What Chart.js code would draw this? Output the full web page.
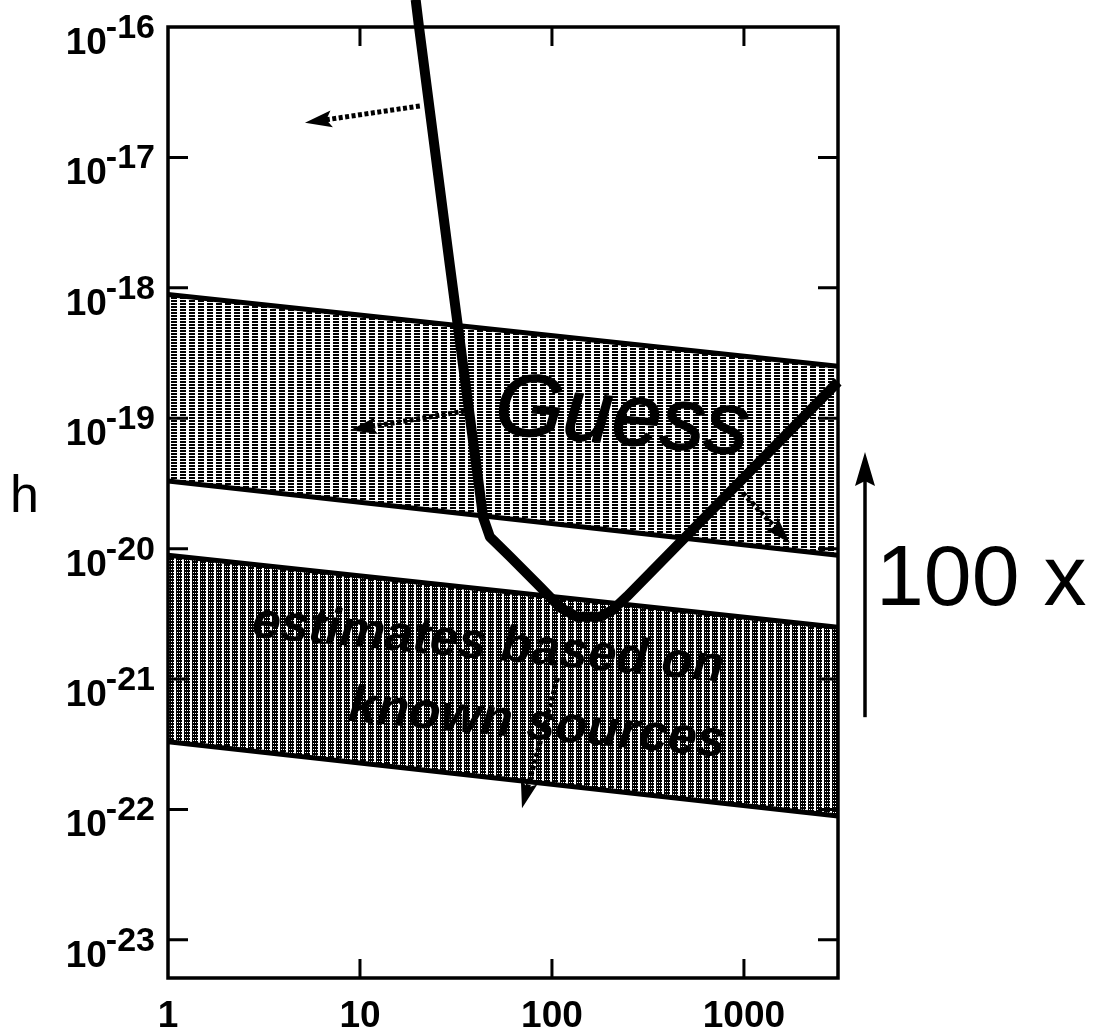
<!DOCTYPE html>
<html>
<head>
<meta charset="utf-8">
<script src="https://cdn.jsdelivr.net/npm/chart.js@4.4.1/dist/chart.umd.min.js"></script>
<style>
  html, body { margin: 0; padding: 0; background: #fff; }
  #wrap { width: 1095px; height: 1029px; position: relative; }
</style>
</head>
<body>
<div id="wrap"><canvas id="c" width="1095" height="1029"></canvas></div>
<script>
// ---- data ----
const freqTicks = [1, 10, 100, 1000];
const freqTickLabels = ['1', '10', '100', '1000'];
const hExponents = [-16, -17, -18, -19, -20, -21, -22, -23];

const bandX = [1, 3090];
const upperBandTop = [8.9e-19, 2.5e-19];
const upperBandBottom = [3.3e-20, 8.9e-21];
const lowerBandTop = [8.9e-21, 2.5e-21];
const lowerBandBottom = [3.3e-22, 8.9e-23];

const guessX = [19.5, 20.3, 29.4, 43.8, 47.5, 60.4, 86.7, 110, 135, 178, 208, 246, 3090];
const guessH = [1.62e-16, 1.0e-16, 1.48e-18, 1.74e-20, 1.23e-20, 8.7e-21, 5.1e-21, 3.55e-21, 3.0e-21, 3.0e-21, 3.4e-21, 4.3e-21, 1.9e-19];

// annotation arrows (from [x,h] -> to [x,h]) in data units
const arrowFromX = [20.5, 35.2, 988, 107];
const arrowFromH = [2.48e-17, 1.135e-19, 2.67e-20, 1.02e-21];
const arrowToX = [5.17, 8.87, 1738, 69.8];
const arrowToH = [1.84e-17, 8.1e-20, 1.1e-20, 1.02e-22];

const scaleArrowH = [5.1e-22, 5.5e-20]; // "100 x" arrow, tail -> tip
const xMin = 1, xMax = 3090, yMin = 5.1e-24, yMax = 1e-16;

const pts = (xs, ys) => xs.map((x, i) => ({ x: x, y: ys[i] }));

// ---- patterns (dotted vertical stripes) ----
function makePattern(w, h, dots) {
  const c = document.createElement('canvas');
  c.width = w; c.height = h;
  const g = c.getContext('2d');
  g.fillStyle = '#ffffff'; g.fillRect(0, 0, w, h);
  g.fillStyle = '#000000';
  dots.forEach(d => g.fillRect(d[0], d[1], 1, 1));
  return document.getElementById('c').getContext('2d').createPattern(c, 'repeat');
}
const upperPattern = makePattern(9, 3, [
  [0,0],[1,0],[2,0],[3,0],[4,0],[5,0],
  [0,1],[1,1],[2,1],[3,1],[4,1],[5,1]
]);
const lowerPattern = makePattern(8, 3, [
  [0,0],[1,0],[2,0],[3,0],[4,0],[5,0],
  [0,1],[1,1],[2,1],[3,1],[4,1],[5,1],
  [0,2],[2,2],[4,2]
]);

const FONT = '"Liberation Sans", Arial, Helvetica, sans-serif';

function arrowHead(ctx, x1, y1, x2, y2, len, half) {
  const a = Math.atan2(y2 - y1, x2 - x1);
  ctx.save();
  ctx.translate(x2, y2);
  ctx.rotate(a);
  ctx.beginPath();
  ctx.moveTo(0, 0);
  ctx.lineTo(-len, -half);
  ctx.lineTo(-len * 0.8, 0);
  ctx.lineTo(-len, half);
  ctx.closePath();
  ctx.fill();
  ctx.restore();
}

const decor = {
  id: 'decor',
  afterDatasetsDraw(chart) {
    const ctx = chart.ctx;
    const xs = chart.scales.x, ys = chart.scales.y;
    const ca = chart.chartArea;
    ctx.save();
    ctx.fillStyle = '#000'; ctx.strokeStyle = '#000';

    // texts inside the plot
    function rotText(txt, xv, hv, font, ang, stroke) {
      const px = xs.getPixelForValue(xv), py = ys.getPixelForValue(hv);
      ctx.save();
      ctx.translate(px, py);
      ctx.rotate(ang * Math.PI / 180);
      ctx.font = font;
      ctx.textAlign = 'center';
      ctx.textBaseline = 'middle';
      if (stroke) { ctx.lineWidth = stroke; ctx.lineJoin = 'round'; ctx.strokeText(txt, 0, 0); }
      ctx.fillText(txt, 0, 0);
      ctx.restore();
    }
    rotText('Guess', 232, 9.8e-20, 'italic 88px ' + FONT, 5, 1.5);
    rotText('estimates based on', 46.4, 1.82e-21, 'italic bold 51px ' + FONT, 5.5, 0);
    rotText('known sources', 83.5, 4.47e-22, 'italic bold 52px ' + FONT, 5.5, 0);

    // dotted arrows
    for (let i = 0; i < arrowFromX.length; i++) {
      const x1 = xs.getPixelForValue(arrowFromX[i]), y1 = ys.getPixelForValue(arrowFromH[i]);
      const x2 = xs.getPixelForValue(arrowToX[i]), y2 = ys.getPixelForValue(arrowToH[i]);
      const a = Math.atan2(y2 - y1, x2 - x1);
      ctx.save();
      ctx.lineWidth = 5;
      ctx.setLineDash([4, 2.5]);
      ctx.beginPath();
      ctx.moveTo(x1, y1);
      ctx.lineTo(x2 - Math.cos(a) * 20, y2 - Math.sin(a) * 20);
      ctx.stroke();
      ctx.restore();
      arrowHead(ctx, x1, y1, x2, y2, 27, 8.5);
    }

    // frame
    ctx.lineWidth = 3.5;
    ctx.strokeRect(ca.left, ca.top, ca.right - ca.left, ca.bottom - ca.top);

    // ticks (inward, mirrored)
    ctx.lineWidth = 3;
    ctx.beginPath();
    hExponents.forEach(e => {
      const y = ys.getPixelForValue(Math.pow(10, e));
      if (y > ca.top + 2 && y < ca.bottom - 2) {
        ctx.moveTo(ca.left, y); ctx.lineTo(ca.left + 20, y);
        ctx.moveTo(ca.right, y); ctx.lineTo(ca.right - 20, y);
      }
    });
    freqTicks.forEach(v => {
      const x = xs.getPixelForValue(v);
      if (x > ca.left + 2 && x < ca.right - 2) {
        ctx.moveTo(x, ca.bottom); ctx.lineTo(x, ca.bottom - 19);
        ctx.moveTo(x, ca.top); ctx.lineTo(x, ca.top + 19);
      }
    });
    ctx.stroke();

    // y tick labels 10^e
    hExponents.forEach(e => {
      const y = ys.getPixelForValue(Math.pow(10, e));
      const right = ca.left - 13;
      const sup = '-' + String(-e);
      ctx.textBaseline = 'alphabetic';
      ctx.textAlign = 'right';
      ctx.font = 'bold 34px ' + FONT;
      const wSup = ctx.measureText(sup).width;
      ctx.fillText(sup, right, y + 11);
      ctx.font = 'bold 37px ' + FONT;
      ctx.fillText('10', right - wSup + 1, y + 27);
    });

    // x tick labels
    ctx.font = 'bold 37px ' + FONT;
    ctx.textAlign = 'center';
    ctx.textBaseline = 'alphabetic';
    freqTicks.forEach((v, i) => {
      ctx.fillText(freqTickLabels[i], xs.getPixelForValue(v), ca.bottom + 49);
    });

    // axis title
    ctx.font = '52px ' + FONT;
    ctx.textAlign = 'left';
    ctx.fillText('h', 10, 512);

    // "100 x" scale arrow at the right
    const ax = ca.right + 27;
    const yTail = ys.getPixelForValue(scaleArrowH[0]);
    const yTip = ys.getPixelForValue(scaleArrowH[1]);
    ctx.lineWidth = 3.5;
    ctx.beginPath();
    ctx.moveTo(ax, yTail); ctx.lineTo(ax, yTip + 25);
    ctx.stroke();
    ctx.beginPath();
    ctx.moveTo(ax, yTip);
    ctx.lineTo(ax - 10, yTip + 34);
    ctx.lineTo(ax, yTip + 29);
    ctx.lineTo(ax + 10, yTip + 34);
    ctx.closePath();
    ctx.fill();
    ctx.font = '86px ' + FONT;
    ctx.textAlign = 'left';
    ctx.textBaseline = 'alphabetic';
    ctx.fillText('100 x', ca.right + 38, 605);

    ctx.restore();
  }
};

new Chart(document.getElementById('c'), {
  type: 'line',
  data: {
    datasets: [
      { label: 'Guess', data: pts(guessX, guessH), borderColor: '#000', borderWidth: 10,
        pointRadius: 0, tension: 0, fill: false, order: 0, clip: false,
        borderJoinStyle: 'round', borderCapStyle: 'butt' },
      { label: 'upper top', data: pts(bandX, upperBandTop), borderColor: '#000', borderWidth: 5,
        pointRadius: 0, fill: false, order: 1 },
      { label: 'upper bottom', data: pts(bandX, upperBandBottom), borderColor: '#000', borderWidth: 5,
        pointRadius: 0, fill: '-1', backgroundColor: upperPattern, order: 1 },
      { label: 'lower top', data: pts(bandX, lowerBandTop), borderColor: '#000', borderWidth: 5,
        pointRadius: 0, fill: false, order: 1 },
      { label: 'lower bottom', data: pts(bandX, lowerBandBottom), borderColor: '#000', borderWidth: 5,
        pointRadius: 0, fill: '-1', backgroundColor: lowerPattern, order: 1 }
    ]
  },
  options: {
    responsive: false,
    animation: false,
    events: [],
    layout: { padding: { left: 168, right: 257, top: 27, bottom: 51 } },
    plugins: { legend: { display: false }, tooltip: { enabled: false } },
    scales: {
      x: { type: 'logarithmic', min: xMin, max: xMax, display: false },
      y: { type: 'logarithmic', min: yMin, max: yMax, display: false }
    }
  },
  plugins: [decor]
});
</script>
</body>
</html>
